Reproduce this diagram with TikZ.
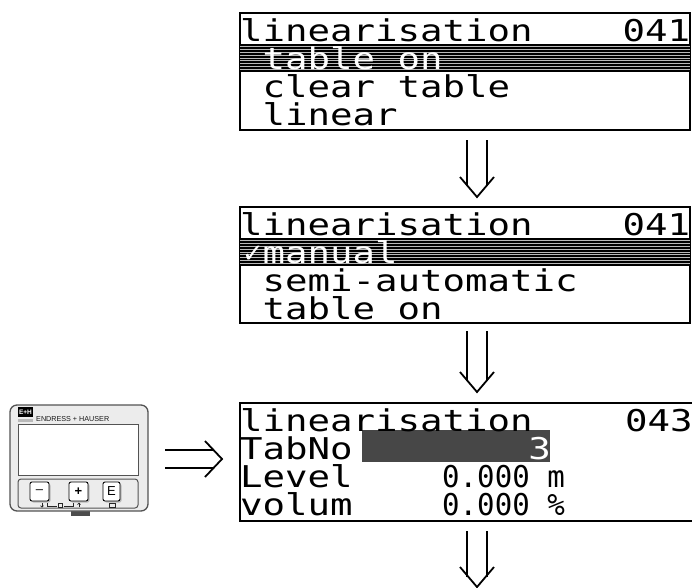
\documentclass[tikz,border=0pt]{standalone}
\usepackage{fontspec}
\setmainfont{Liberation Sans}
\newfontfamily\lcdfont[FakeStretch=1.246]{DejaVu Sans Mono}
\newfontfamily\lcdnarrow[FakeStretch=0.97]{DejaVu Sans Mono}
\newfontfamily\symfont{DejaVu Sans}
\usepackage{tikz}

\begin{document}
\begin{tikzpicture}[x=1pt,y=-1pt,
	lcd/.style={anchor=base west, inner sep=0pt, font=\lcdfont\fontsize{30}{32}\selectfont},
	lcdnum/.style={anchor=base west, inner sep=0pt, font=\lcdnarrow\fontsize{30}{32}\selectfont},
	frame/.style={line width=1.6pt},
	dbl/.style={line width=1.8pt},
	key/.style={fill=white, draw=black, line width=0.9pt, rounded corners=2pt},
	keylabel/.style={inner sep=0pt, font=\fontsize{13}{13}\selectfont}]
	\useasboundingbox (0,0) rectangle (692,587);
	\clip (0,0) rectangle (692,587);

	%% Display 041: table on
	\draw[frame] (240,13) rectangle (690,130);
	\fill (240,44) rectangle (690,72);
	\foreach \k in {1,...,9}
		\draw[gray!55, line width=0.9pt] (240,44+2.8*\k) -- (690,44+2.8*\k);
	\node[lcd] (t1) at (240,41) {linearisation};
	\node[lcd] (n1) at (622.5,41) {041};
	\node[lcd, text=white] (s1) at (262.5,69) {table on};
	\node[lcd] (c1) at (262.5,97) {clear table};
	\node[lcd] (l1) at (262.5,125) {linear};

	% arrow down
	\draw[dbl] (467,140) -- (467,186) (487,140) -- (487,186);
	\draw[dbl] (460,177) -- (477,197) -- (494,177);

	%% Display 041: manual
	\draw[frame] (240,207) rectangle (690,323);
	\fill (240,238) rectangle (690,266);
	\foreach \k in {1,...,9}
		\draw[gray!55, line width=0.9pt] (240,238+2.8*\k) -- (690,238+2.8*\k);
	\node[lcd] (t2) at (240,235) {linearisation};
	\node[lcd] (n2) at (622.5,235) {041};
	\node[anchor=base west, inner sep=0pt, text=white,
		font=\symfont\fontsize{26}{28}\selectfont] (ck) at (242,262) {✓};
	\node[lcd, text=white] (s2) at (262.5,263) {manual};
	\node[lcd] (m2) at (262.5,291) {semi-automatic};
	\node[lcd] (o2) at (262.5,319) {table on};

	% arrow down
	\draw[dbl] (467,331) -- (467,381) (487,331) -- (487,381);
	\draw[dbl] (460,372) -- (477,392) -- (494,372);

	%% Display 043: table entry
	\draw[frame] (240,403) rectangle (700,521);
	\fill[black!72] (362,430) rectangle (550,462);
	\node[lcd] (t3) at (240,431) {linearisation};
	\node[lcd] (n3) at (625,431) {043};
	\node[lcd] (tab) at (240,459) {TabNo};
	\node[lcd, anchor=base east, text=white] (no) at (551,459) {3};
	\node[lcd] (lev) at (240,487) {Level};
	\node[lcdnum] (lv) at (442,487) {0.000 m};
	\node[lcd] (vol) at (240,515) {volum};
	\node[lcdnum] (vv) at (442,515) {0.000 \%};

	% arrow down
	\draw[dbl] (467,531) -- (467,577) (487,531) -- (487,577);
	\draw[dbl] (460,567) -- (477,587) -- (494,567);

	% arrow right
	\draw[dbl] (165,450) -- (214,450) (165,468) -- (214,468);
	\draw[dbl] (205,441) -- (222,459) -- (205,477);

	%% Operating module
	\fill[gray!60!black] (71,510) rectangle (90,516);
	\filldraw[fill=gray!15, draw=gray!65!black, line width=1.3pt, rounded corners=7pt]
		(10,405) rectangle (148,511);
	\fill[black] (18,407) rectangle (33,417);
	\node[inner sep=0pt, text=white, font=\bfseries\fontsize{6.5}{6.5}\selectfont] (eh) at (25.5,412.3) {E+H};
	\fill[gray!55] (18,418.5) rectangle (33,421.5);
	\node[anchor=base west, inner sep=0pt, text=gray!20!black,
		font=\fontsize{7.2}{7.2}\selectfont] (brand) at (36,421.5) {ENDRESS + HAUSER};
	\filldraw[fill=white, draw=gray!65!black, line width=1pt] (18,424) rectangle (138,475);
	\draw[gray!65!black, line width=1pt, rounded corners=3pt] (18,479) rectangle (138,508);

	% keys
	\fill[gray!55, rounded corners=2pt] (31.5,483.5) rectangle (50.5,502.5);
	\fill[gray!55, rounded corners=2pt] (70.5,483.5) rectangle (89.5,502.5);
	\fill[gray!55, rounded corners=2pt] (104.5,483.5) rectangle (121.5,502.5);
	\draw[key] (30,482) rectangle (49,501);
	\draw[key] (69,482) rectangle (88,501);
	\draw[key] (103,482) rectangle (120,501);
	\node[keylabel] (minus) at (39.5,491.5) {–};
	\node[keylabel, font=\bfseries\fontsize{13}{13}\selectfont] (plus) at (78.5,491.5) {+};
	\node[keylabel] (enter) at (111.5,491.5) {E};

	% key symbols
	\draw[gray!30!black, line width=0.7pt] (42,503) -- (42,507);
	\draw[gray!30!black, line width=0.7pt] (40.5,505.5) -- (42,507) -- (43.5,505.5);
	\draw[gray!30!black, line width=0.7pt] (47,503) -- (47,506) -- (57,506);
	\draw[gray!30!black, line width=0.6pt] (58,503) rectangle (62,507);
	\draw[gray!30!black, line width=0.7pt] (64,506) -- (73,506) -- (73,503);
	\draw[gray!30!black, line width=0.7pt] (79,503) -- (79,507);
	\draw[gray!30!black, line width=0.7pt] (77.5,504.5) -- (79,503) -- (80.5,504.5);
	\draw[gray!30!black, line width=0.6pt] (109,503) rectangle (115,507);
\end{tikzpicture}
\end{document}
